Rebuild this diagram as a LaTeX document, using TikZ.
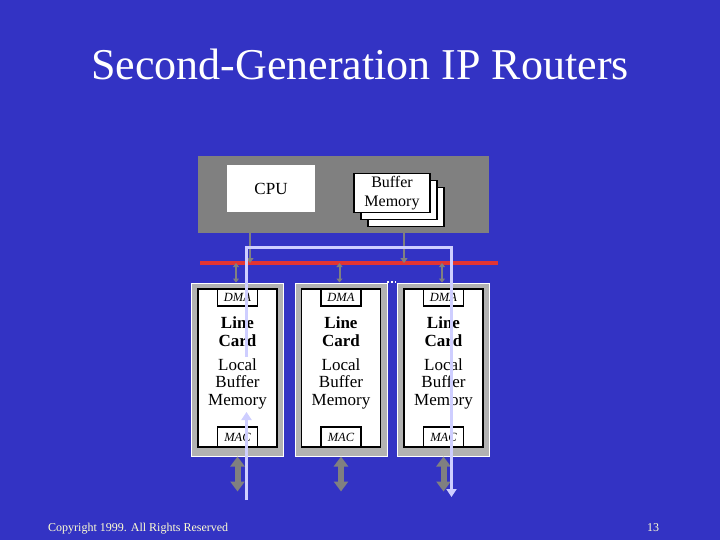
\documentclass[tikz,border=0pt]{standalone}
\usepackage{fontspec}
\setmainfont{Liberation Serif}
\usepackage{tikz}
\usetikzlibrary{arrows.meta,positioning}
\definecolor{slideblue}{RGB}{51,51,196}
\definecolor{busred}{RGB}{226,52,52}
\definecolor{pathlav}{RGB}{206,206,255}
\definecolor{footyellow}{RGB}{255,255,210}
\definecolor{cardgray}{RGB}{178,178,178}
\definecolor{hostgray}{RGB}{128,128,128}

\begin{document}
\begin{tikzpicture}[x=1pt, y=-1pt,
  box/.style={draw=black, fill=white, inner sep=0pt, line width=1.2pt},
  bustap/.style={draw=hostgray, line width=2pt, -{Triangle[length=5pt,width=7pt]}},
  cardtap/.style={draw=hostgray, line width=2pt, {Triangle[length=4pt,width=6pt]}-{Triangle[length=4pt,width=6pt]}},
  portarrow/.style={draw=hostgray, line width=6pt, {Triangle[length=10pt,width=14pt]}-{Triangle[length=10pt,width=14pt]}},
  flow/.style={draw=pathlav, line width=3pt},
  txt/.style={font=\fontsize{17}{18}\selectfont, align=center, inner sep=0pt}]
%%%%% Background %%%%%
\fill[slideblue] (0,0) rectangle (720,540);
\useasboundingbox (0,0) rectangle (720,540);
\node[white, anchor=base, font=\fontsize{44}{50}\selectfont] (title) at (360,80) {Second-Generation IP Routers};

%%%%% Central host %%%%%
\node[fill=hostgray, minimum width=291pt, minimum height=77pt, inner sep=0pt] (host) at (343.5,194.5) {};
\node[fill=white, minimum width=88pt, minimum height=47pt, inner sep=0pt, font=\fontsize{17}{19}\selectfont] (cpu) at (271,188.5) {CPU};
\foreach \k in {2,1}{
\node[box, minimum width=76pt, minimum height=39pt] (bufmem\k) at (392+7*\k,193+7*\k) {};
}
\node[box, minimum width=76pt, minimum height=39pt, align=center, font=\fontsize{16}{19}\selectfont] (bufmem) at (392,193) {Buffer\\Memory};

%%%%% Bus %%%%%
\coordinate (busL) at (200,263);
\coordinate (busR) at (498,263);
\draw[busred, line width=4pt] (busL) -- (busR);
\draw[bustap] ([xshift=-21pt]cpu.south) -- ([xshift=-21pt]cpu.south |- busL);
\draw[bustap] ([xshift=-2pt]bufmem2.south) -- ([xshift=-2pt]bufmem2.south |- busL);

%%%%% Line cards %%%%%
\foreach \i/\x in {1/237.5,2/341,3/443.5}{
\node[fill=cardgray, draw=white, line width=1pt, minimum width=92pt, minimum height=173pt, inner sep=0pt] (card\i) at (\x,369.5) {};
\node[box, minimum width=79pt, minimum height=158pt] (lc\i) at (\x,368) {};
\node[box, minimum width=40pt, minimum height=17pt, below=0pt of lc\i.north, font=\fontsize{12.5}{14}\selectfont\itshape] (dma\i) {DMA};
\node[box, minimum width=40pt, minimum height=20pt, above=0pt of lc\i.south, font=\fontsize{12.5}{14}\selectfont\itshape] (mac\i) {MAC};
\node[txt, font=\fontsize{17}{18}\selectfont\bfseries] (lctitle\i) at (\x,332) {Line\\Card};
\node[txt, font=\fontsize{17}{17.5}\selectfont] (lcbuf\i) at (\x,383.5) {Local\\Buffer\\Memory};
\draw[cardtap] ([xshift=-1.5pt]card\i.north |- busL) -- ([xshift=-1.5pt]card\i.north);
\draw[portarrow] (card\i.south) -- ++(0,35);
}
\draw[white, line width=2pt, dash pattern=on 2pt off 2pt] (387,282) -- (396,282);

%%%%% Packet path %%%%%
\coordinate (pin) at (246.5,500);
\coordinate (pmem) at (246.5,412);
\coordinate (pstart) at (246.5,357);
\coordinate (pout) at (451.5,497);
\draw[flow, -{Triangle[length=8pt,width=10pt]}] (pin) -- (pmem);
\draw[flow, -{Triangle[length=8pt,width=10pt]}] (pstart) |- (451.5,247) -- (pout);

%%%%% Footer %%%%%
\node[footyellow, anchor=base west, inner sep=0pt, font=\fontsize{12}{14}\selectfont] (copy) at (48,531) {Copyright 1999. All Rights Reserved};
\node[footyellow, anchor=base, inner sep=0pt, font=\fontsize{12}{14}\selectfont] (pageno) at (653,531) {13};
\end{tikzpicture}
\end{document}
